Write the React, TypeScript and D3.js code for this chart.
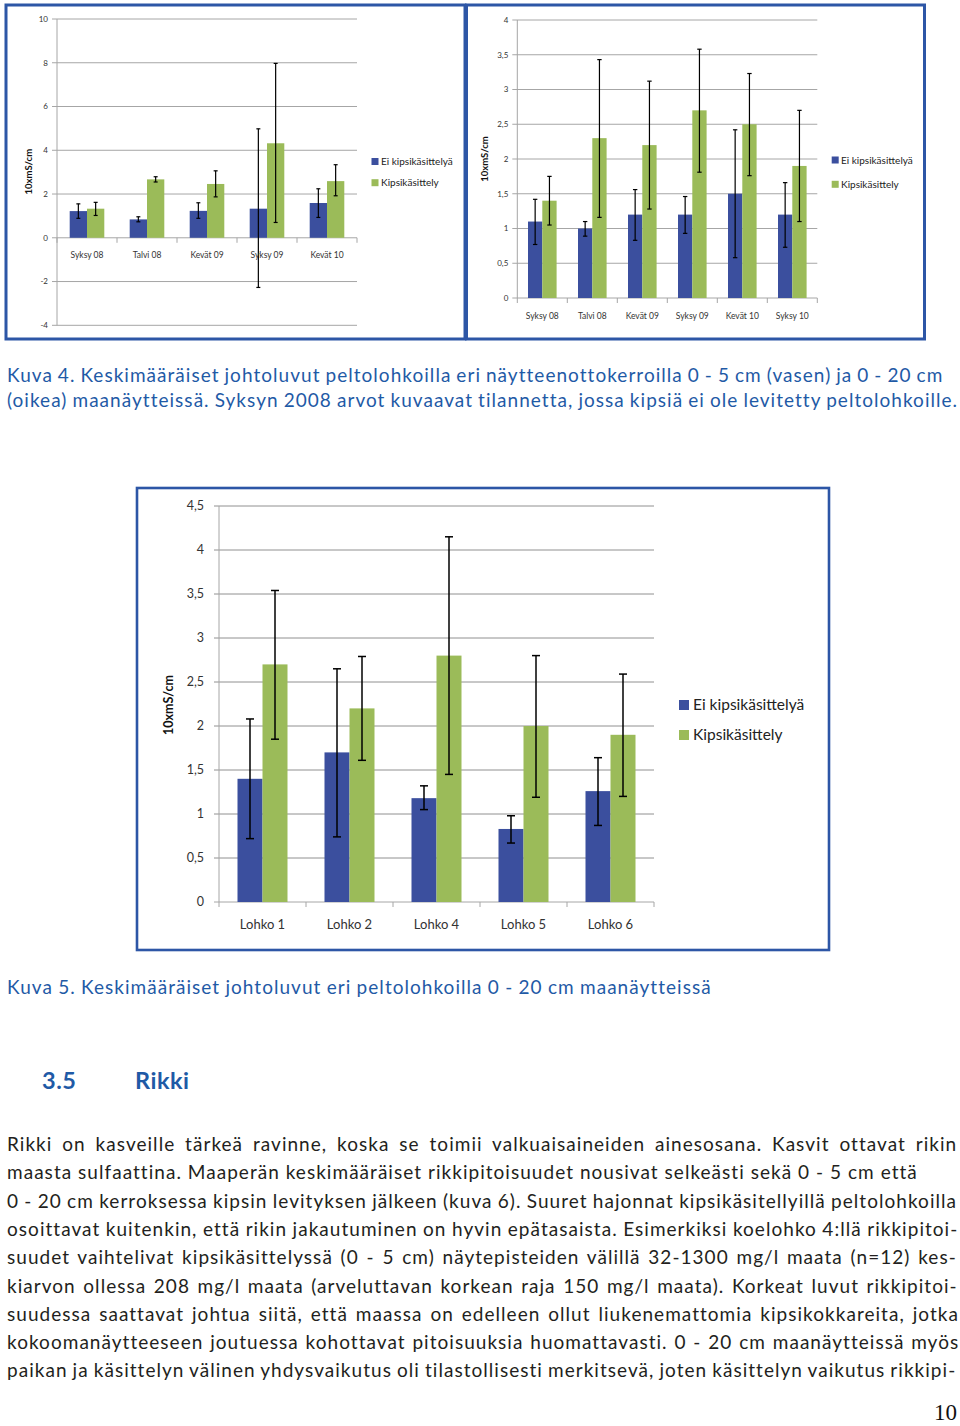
import React from 'react';
import * as d3 from 'd3';

const BLUE = '#3b4f9e';
const GREEN = '#9bbb59';
const FRAME = '#2d56a6';
const TEXT_BLUE = '#1f5aa6';
const TEXT_DARK = '#231f20';

const seriesNames = ['Ei kipsikäsittelyä', 'Kipsikäsittely'];
const axisTitle = '10xmS/cm';

// Kuva 4 vasen (0 - 5 cm)
const leftCategories = ['Syksy 08', 'Talvi 08', 'Kevät 09', 'Syksy 09', 'Kevät 10'];
const leftNoGypsum = [1.22, 0.84, 1.23, 1.33, 1.59];
const leftNoGypsumHigh = [1.55, 0.96, 1.6, 4.98, 2.24];
const leftNoGypsumLow = [0.89, 0.73, 0.89, -2.27, 0.93];
const leftGypsum = [1.33, 2.67, 2.46, 4.32, 2.59];
const leftGypsumHigh = [1.62, 2.79, 3.06, 7.97, 3.34];
const leftGypsumLow = [1.02, 2.55, 1.87, 0.7, 1.92];
const leftTicks = [-4, -2, 0, 2, 4, 6, 8, 10];

// Kuva 4 oikea (0 - 20 cm)
const rightCategories = ['Syksy 08', 'Talvi 08', 'Kevät 09', 'Syksy 09', 'Kevät 10', 'Syksy 10'];
const rightNoGypsum = [1.1, 1.0, 1.2, 1.2, 1.5, 1.2];
const rightNoGypsumHigh = [1.42, 1.1, 1.56, 1.46, 2.42, 1.66];
const rightNoGypsumLow = [0.77, 0.89, 0.83, 0.93, 0.58, 0.73];
const rightGypsum = [1.4, 2.3, 2.2, 2.7, 2.5, 1.9];
const rightGypsumHigh = [1.75, 3.43, 3.12, 3.58, 3.23, 2.7];
const rightGypsumLow = [1.05, 1.16, 1.28, 1.81, 1.76, 1.1];
const rightTicks = [0, 0.5, 1, 1.5, 2, 2.5, 3, 3.5, 4];

// Kuva 5
const bottomCategories = ['Lohko 1', 'Lohko 2', 'Lohko 4', 'Lohko 5', 'Lohko 6'];
const bottomNoGypsum = [1.4, 1.7, 1.18, 0.83, 1.26];
const bottomNoGypsumHigh = [2.08, 2.65, 1.32, 0.98, 1.64];
const bottomNoGypsumLow = [0.72, 0.74, 1.05, 0.67, 0.87];
const bottomGypsum = [2.7, 2.2, 2.8, 2.0, 1.9];
const bottomGypsumHigh = [3.54, 2.79, 4.15, 2.8, 2.59];
const bottomGypsumLow = [1.85, 1.61, 1.45, 1.19, 1.2];
const bottomTicks = [0, 0.5, 1, 1.5, 2, 2.5, 3, 3.5, 4, 4.5];

const caption4 = [
  'Kuva 4. Keskimääräiset johtoluvut peltolohkoilla eri näytteenottokerroilla 0 - 5 cm (vasen) ja 0 - 20 cm',
  '(oikea) maanäytteissä. Syksyn 2008 arvot kuvaavat tilannetta, jossa kipsiä ei ole levitetty peltolohkoille.',
];
const caption5 = 'Kuva 5. Keskimääräiset johtoluvut eri peltolohkoilla 0 - 20 cm maanäytteissä';
const headingNum = '3.5';
const headingText = 'Rikki';
const paragraph = [
  'Rikki on kasveille tärkeä ravinne, koska se toimii valkuaisaineiden ainesosana. Kasvit ottavat rikin',
  'maasta sulfaattina. Maaperän keskimääräiset rikkipitoisuudet nousivat selkeästi sekä 0 - 5 cm että',
  '0 - 20 cm kerroksessa kipsin levityksen jälkeen (kuva 6). Suuret hajonnat kipsikäsitellyillä peltolohkoilla',
  'osoittavat kuitenkin, että rikin jakautuminen on hyvin epätasaista. Esimerkiksi koelohko 4:llä rikkipitoi-',
  'suudet vaihtelivat kipsikäsittelyssä (0 - 5 cm) näytepisteiden välillä 32-1300 mg/l maata (n=12) kes-',
  'kiarvon ollessa 208 mg/l maata (arveluttavan korkean raja 150 mg/l maata). Korkeat luvut rikkipitoi-',
  'suudessa saattavat johtua siitä, että maassa on edelleen ollut liukenemattomia kipsikokkareita, jotka',
  'kokoomanäytteeseen joutuessa kohottavat pitoisuuksia huomattavasti. 0 - 20 cm maanäytteissä myös',
  'paikan ja käsittelyn välinen yhdysvaikutus oli tilastollisesti merkitsevä, joten käsittelyn vaikutus rikkipi-',
];
const paragraphWidths = [950, 910, 950, 950, 950, 950, 950, 950, 950];
const pageNumber = '10';

let ctx: CanvasRenderingContext2D | null = null;
function measure(text: string, font: string) {
  if (!ctx) ctx = document.createElement('canvas').getContext('2d');
  if (!ctx) return text.length * 9;
  ctx.font = font;
  return ctx.measureText(text).width;
}

const FAMILY = 'Lato';
const BODY_SIZE = 19;
// letter spacing chosen so the unjustified second paragraph line has natural word gaps
function bodyLetterSpacing() {
  const ref = paragraph[1];
  const w = measure(ref, `400 ${BODY_SIZE}px ${FAMILY}`);
  return Math.max(0, (paragraphWidths[1] - w) / ref.length);
}

function JLine(props: { text: string; x: number; y: number; width: number; size: number; ls: number; fill: string }) {
  const { text, x, y, width, size, ls, fill } = props;
  const w = measure(text, `400 ${size}px ${FAMILY}`) + ls * text.length;
  const spaces = (text.match(/ /g) || []).length;
  const ws = spaces ? (width - w) / spaces : 0;
  return (
    <text x={x} y={y} fontFamily={FAMILY} fontSize={size} fill={fill} style={{ wordSpacing: `${ws}px`, letterSpacing: `${ls}px` }}>
      {text}
    </text>
  );
}

type Layout = {
  frame: [number, number, number, number];
  frameW: number;
  x0: number; x1: number; yTop: number; yBottom: number;
  barW: number; capW: number; errW: number;
  tickFont: number; tickGap: number;
  catFont: number; catDy: number;
  legendX: number; legendTextX: number; legendY: [number, number]; legendFont: number; legendSq: number;
  titleX: number; titleY: number; titleFont: number;
  gridColor: string;
};

function BarChart(props: {
  categories: string[];
  series: number[][];
  highs: number[][];
  lows: number[][];
  ticks: number[];
  L: Layout;
}) {
  const { categories, series, highs, lows, ticks, L } = props;
  const domain = d3.extent(ticks) as [number, number];
  const y = d3.scaleLinear().domain(domain).range([L.yBottom, L.yTop]);
  const x = d3.scaleBand<string>().domain(categories).range([L.x0, L.x1]).padding(0);
  const inner = d3.scaleBand<string>().domain(seriesNames).range([-L.barW, L.barW]).padding(0);
  const fmt = (d: number) => String(d).replace('.', ',');
  const colors = [BLUE, GREEN];
  const y0 = y(0);
  const boundaries = categories.map((c) => x(c) as number).concat([L.x1]);
  return (
    <g>
      <rect x={L.frame[0]} y={L.frame[1]} width={L.frame[2]} height={L.frame[3]} fill="#fff" stroke={FRAME} strokeWidth={L.frameW} />
      {ticks.map((t) => (
        <g key={t}>
          <line x1={L.x0 - 5} x2={L.x1} y1={y(t)} y2={y(t)} stroke={t === 0 ? '#a6a6a6' : L.gridColor} strokeWidth={1} />
          <text x={L.x0 - L.tickGap} y={y(t)} dy="0.35em" textAnchor="end" fontFamily={FAMILY} fontSize={L.tickFont} fill="#333">
            {fmt(t)}
          </text>
        </g>
      ))}
      <line x1={L.x0} x2={L.x0} y1={y(domain[0])} y2={y(domain[1])} stroke="#a6a6a6" strokeWidth={1} />
      {boundaries.map((b, i) => (
        <line key={i} x1={b} x2={b} y1={y0} y2={y0 + 5} stroke="#a6a6a6" strokeWidth={1} />
      ))}
      {categories.map((c, ci) => {
        const cx = (x(c) as number) + x.bandwidth() / 2;
        return (
          <g key={c}>
            {series.map((s, si) => {
              const bx = cx + (inner(seriesNames[si]) as number);
              return (
                <rect key={si} x={bx} y={Math.min(y(s[ci]), y0)} width={inner.bandwidth()} height={Math.abs(y0 - y(s[ci]))} fill={colors[si]} />
              );
            })}
            {series.map((s, si) => {
              const ex = cx + (inner(seriesNames[si]) as number) + inner.bandwidth() / 2;
              const hi = y(highs[si][ci]);
              const lo = y(lows[si][ci]);
              return (
                <g key={'e' + si} stroke="#000" strokeWidth={L.errW}>
                  <line x1={ex} x2={ex} y1={hi} y2={lo} />
                  <line x1={ex - L.capW} x2={ex + L.capW} y1={hi} y2={hi} />
                  <line x1={ex - L.capW} x2={ex + L.capW} y1={lo} y2={lo} />
                </g>
              );
            })}
            <text x={cx} y={y0 + L.catDy} textAnchor="middle" fontFamily={FAMILY} fontSize={L.catFont} fill="#333">
              {c}
            </text>
          </g>
        );
      })}
      {seriesNames.map((n, i) => (
        <g key={n}>
          <rect x={L.legendX} y={L.legendY[i] - L.legendSq / 2} width={L.legendSq} height={L.legendSq} fill={colors[i]} />
          <text x={L.legendTextX} y={L.legendY[i]} dy="0.35em" fontFamily={FAMILY} fontSize={L.legendFont} fill="#222">
            {n}
          </text>
        </g>
      ))}
      <text
        transform={`translate(${L.titleX},${L.titleY}) rotate(-90)`}
        textAnchor="middle"
        dy="0.35em"
        fontFamily={FAMILY}
        fontWeight={700}
        fontSize={L.titleFont}
        fill="#111"
      >
        {axisTitle}
      </text>
    </g>
  );
}

const leftLayout: Layout = {
  frame: [6, 5, 459, 334], frameW: 3,
  x0: 57, x1: 357, yTop: 19, yBottom: 325.3,
  barW: 17.3, capW: 2, errW: 1.2,
  tickFont: 8, tickGap: 9,
  catFont: 8.5, catDy: 20,
  legendX: 371.5, legendTextX: 381, legendY: [161.5, 182.7], legendFont: 10, legendSq: 7,
  titleX: 28.3, titleY: 171.7, titleFont: 9.5,
  gridColor: '#a6a6a6',
};
const rightLayout: Layout = {
  frame: [466.5, 5, 458, 334], frameW: 3,
  x0: 517.3, x1: 817.3, yTop: 20, yBottom: 298,
  barW: 14.3, capW: 2.2, errW: 1.2,
  tickFont: 8, tickGap: 9,
  catFont: 8.5, catDy: 20.5,
  legendX: 831.7, legendTextX: 841, legendY: [160, 184.3], legendFont: 10, legendSq: 7,
  titleX: 485, titleY: 159, titleFont: 9.5,
  gridColor: '#a6a6a6',
};
const bottomLayout: Layout = {
  frame: [137, 488, 692, 462], frameW: 2.6,
  x0: 219, x1: 654, yTop: 506, yBottom: 902,
  barW: 25, capW: 4, errW: 1.5,
  tickFont: 12.5, tickGap: 15,
  catFont: 13, catDy: 27,
  legendX: 679, legendTextX: 693, legendY: [705, 735], legendFont: 15.5, legendSq: 10,
  titleX: 168.5, titleY: 705, titleFont: 12.5,
  gridColor: '#909090',
};

export default function App() {
  const ls = bodyLetterSpacing();
  return (
    <div style={{ position: 'absolute', left: 0, top: 0, width: 960, height: 1426, background: '#fff' }}>
      <svg width={960} height={1426} style={{ display: 'block' }}>
        <rect width={960} height={1426} fill="#fff" />
        <BarChart
          categories={leftCategories}
          series={[leftNoGypsum, leftGypsum]}
          highs={[leftNoGypsumHigh, leftGypsumHigh]}
          lows={[leftNoGypsumLow, leftGypsumLow]}
          ticks={leftTicks}
          L={leftLayout}
        />
        <BarChart
          categories={rightCategories}
          series={[rightNoGypsum, rightGypsum]}
          highs={[rightNoGypsumHigh, rightGypsumHigh]}
          lows={[rightNoGypsumLow, rightGypsumLow]}
          ticks={rightTicks}
          L={rightLayout}
        />
        <JLine text={caption4[0]} x={7} y={382} width={935} size={BODY_SIZE} ls={ls} fill={TEXT_BLUE} />
        <JLine text={caption4[1]} x={7} y={407} width={950} size={BODY_SIZE} ls={ls} fill={TEXT_BLUE} />
        <BarChart
          categories={bottomCategories}
          series={[bottomNoGypsum, bottomGypsum]}
          highs={[bottomNoGypsumHigh, bottomGypsumHigh]}
          lows={[bottomNoGypsumLow, bottomGypsumLow]}
          ticks={bottomTicks}
          L={bottomLayout}
        />
        <JLine text={caption5} x={7} y={994} width={704} size={BODY_SIZE} ls={ls} fill={TEXT_BLUE} />
        <text x={42} y={1089} fontFamily={FAMILY} fontWeight={700} fontSize={23.5} fill={TEXT_BLUE} style={{ letterSpacing: '0.5px' }}>{headingNum}</text>
        <text x={135} y={1089} fontFamily={FAMILY} fontWeight={700} fontSize={23.5} fill={TEXT_BLUE} style={{ letterSpacing: '0.5px' }}>{headingText}</text>
        {paragraph.map((line, i) => (
          <JLine key={i} text={line} x={7} y={1151 + i * 28.3} width={paragraphWidths[i]} size={BODY_SIZE} ls={ls} fill={TEXT_DARK} />
        ))}
        <text x={957} y={1420} textAnchor="end" fontFamily="Liberation Serif" fontSize={23} fill="#111">{pageNumber}</text>
      </svg>
    </div>
  );
}
